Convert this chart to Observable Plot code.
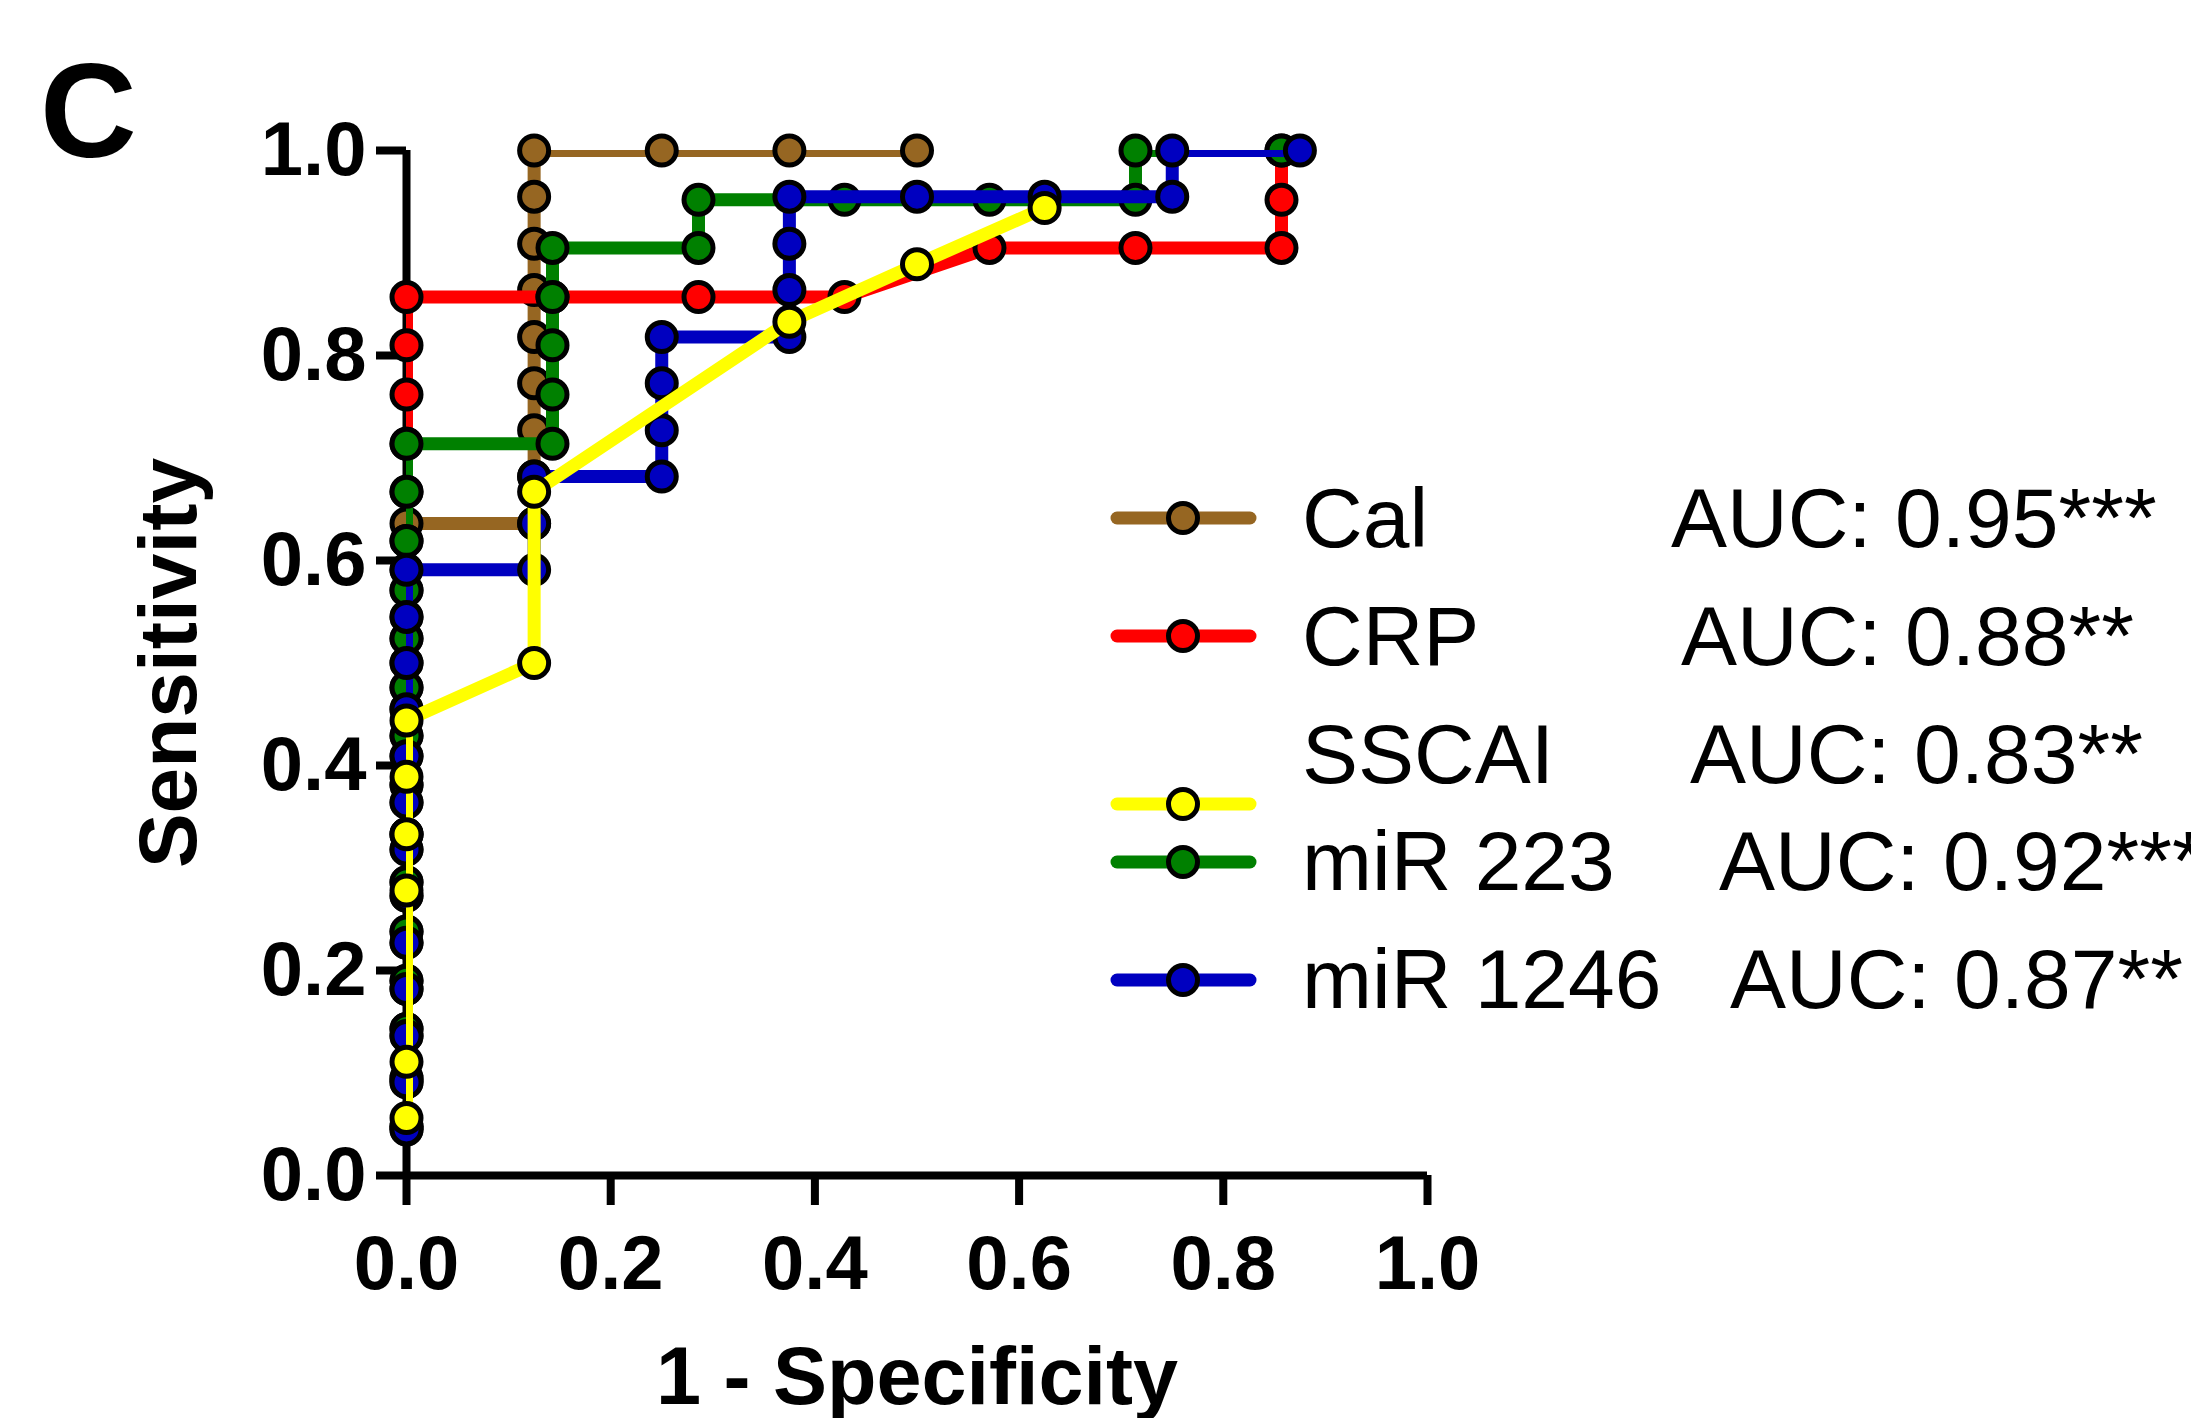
<!DOCTYPE html>
<html><head><meta charset="utf-8">
<script src="https://cdn.jsdelivr.net/npm/d3@7"></script>
<script src="https://cdn.jsdelivr.net/npm/@observablehq/plot@0.6"></script>
<style>
html,body{margin:0;padding:0;background:#fff;}
#wrap{position:relative;width:2191px;height:1418px;font-family:"Liberation Sans",Arial,Helvetica,sans-serif;}
#overlay{position:absolute;left:0;top:0;pointer-events:none;}
</style></head><body><div id="wrap"></div>
<script>
// ---- data ----
const xTicks = [0.0, 0.2, 0.4, 0.6, 0.8, 1.0];
const yTicks = [0.0, 0.2, 0.4, 0.6, 0.8, 1.0];
const seriesNames = ["Cal", "CRP", "SSCAI", "miR 223", "miR 1246"];
const aucLabels = ["AUC: 0.95***", "AUC: 0.88**", "AUC: 0.83**", "AUC: 0.92***", "AUC: 0.87**"];
const seriesColors = ["#966622", "#ff0000", "#ffff00", "#008000", "#0000c0"];
const drawOrder = ["Cal", "CRP", "miR 223", "miR 1246", "SSCAI"];

const calX = [0,0,0,0,0,0,0,0,0,0,0,0,0,0, 0.125,0.125,0.125,0.125,0.125,0.125,0.125,0.125,0.125, 0.25,0.375,0.5];
const calY = [0.045,0.091,0.136,0.182,0.227,0.273,0.318,0.364,0.409,0.455,0.500,0.545,0.591,0.636, 0.636,0.682,0.727,0.773,0.818,0.864,0.909,0.955,1.0, 1.0,1.0,1.0];

const crpX = [0,0,0,0,0,0,0,0,0,0,0,0,0,0,0,0,0,0, 0.143,0.286,0.429,0.571,0.714,0.857,0.857,0.857];
const crpY = [0.048,0.095,0.143,0.190,0.238,0.286,0.333,0.381,0.429,0.476,0.524,0.571,0.619,0.667,0.714,0.762,0.810,0.857, 0.857,0.857,0.857,0.905,0.905,0.905,0.952,1.0];

const sscaiX = [0,0,0,0,0,0, 0.125,0.125,0.375,0.5,0.625];
const sscaiY = [0.056,0.111,0.278,0.333,0.389,0.444, 0.500,0.667,0.833,0.889,0.944];

const mir223X = [0,0,0,0,0,0,0,0,0,0,0,0,0,0,0, 0.143,0.143,0.143,0.143,0.143, 0.286,0.286,0.429,0.571,0.714,0.714,0.857];
const mir223Y = [0.048,0.095,0.143,0.190,0.238,0.286,0.333,0.381,0.429,0.476,0.524,0.571,0.619,0.667,0.714, 0.714,0.762,0.810,0.857,0.905, 0.905,0.952,0.952,0.952,0.952,1.0,1.0];

const mir1246X = [0,0,0,0,0,0,0,0,0,0,0,0,0, 0.125,0.125,0.125, 0.25,0.25,0.25,0.25, 0.375,0.375,0.375,0.375, 0.5,0.625,0.75,0.75,0.875];
const mir1246Y = [0.045,0.091,0.136,0.182,0.227,0.273,0.318,0.364,0.409,0.455,0.500,0.545,0.591, 0.591,0.636,0.682, 0.682,0.727,0.773,0.818, 0.818,0.864,0.909,0.955, 0.955,0.955,0.955,1.0,1.0];

const seriesX = {"Cal": calX, "CRP": crpX, "SSCAI": sscaiX, "miR 223": mir223X, "miR 1246": mir1246X};
const seriesY = {"Cal": calY, "CRP": crpY, "SSCAI": sscaiY, "miR 223": mir223Y, "miR 1246": mir1246Y};

// ---- table ----
const rows = [];
for (const s of seriesNames) {
  seriesX[s].forEach((x, i) => rows.push({series: s, x, y: seriesY[s][i]}));
}

// ---- styles / layout ----
const FONT = '"Liberation Sans", Arial, Helvetica, sans-serif';
const W = 2191, H = 1418;
const LINE_W = 13, DOT_R = 14.5, DOT_SW = 5, AXIS_W = 8;

const marks = [
  Plot.ruleY([0], {strokeWidth: AXIS_W, stroke: "black"}),
  Plot.ruleX([0], {strokeWidth: AXIS_W, stroke: "black"}),
  Plot.axisX({ticks: xTicks, tickFormat: d3.format(".1f"), tickSize: 30, tickPadding: 30,
    strokeWidth: AXIS_W, fontSize: 76, fontWeight: "bold", label: null}),
  Plot.axisX({ticks: [], tickSize: 0, label: "1 - Specificity", labelAnchor: "center", labelArrow: "none",
    labelOffset: 228, fontSize: 81, fontWeight: "bold"}),
  Plot.axisY({ticks: yTicks, tickFormat: d3.format(".1f"), tickSize: 30, tickPadding: 10,
    strokeWidth: AXIS_W, fontSize: 76, fontWeight: "bold", label: null}),
  Plot.axisY({ticks: [], tickSize: 0, label: "Sensitivity", labelAnchor: "center", labelArrow: "none",
    labelOffset: 269, fontSize: 82, fontWeight: "bold"})
];
for (const s of drawOrder) {
  const d = rows.filter(r => r.series === s);
  marks.push(Plot.line(d, {x: "x", y: "y", stroke: "series", strokeWidth: LINE_W,
    strokeLinejoin: "miter", strokeLinecap: "butt", clip: true}));
  marks.push(Plot.dot(d, {x: "x", y: "y", fill: "series", stroke: "black", strokeWidth: DOT_SW, r: DOT_R}));
}

const chart = Plot.plot({
  width: W, height: H,
  marginLeft: 406, marginRight: 764, marginTop: 150, marginBottom: 243,
  x: {domain: [0, 1]},
  y: {domain: [0, 1]},
  color: {domain: seriesNames, range: seriesColors},
  style: {fontFamily: FONT, background: "white", color: "black", overflow: "visible"},
  marks
});
const wrap = document.getElementById("wrap");
wrap.appendChild(chart);

// ---- legend & panel letter overlay ----
const legendLayout = {
  lineX1: 1117, lineX2: 1250, dotX: 1183, nameX: 1302,
  lineY: [518, 636, 804, 862, 980],
  textY: [547, 665, 783, 890, 1008],
  aucX: [1671, 1681, 1690, 1719, 1730]
};
const svg = d3.select(wrap).append("svg").attr("id", "overlay")
  .attr("width", W).attr("height", H).style("overflow", "visible")
  .attr("font-family", FONT);
svg.append("text").attr("x", 40).attr("y", 157).attr("font-size", 134)
  .attr("font-weight", "bold").text("C");
seriesNames.forEach((name, i) => {
  const g = svg.append("g");
  const ly = legendLayout.lineY[i];
  g.append("line").attr("x1", legendLayout.lineX1).attr("x2", legendLayout.lineX2)
    .attr("y1", ly).attr("y2", ly).attr("stroke", seriesColors[i]).attr("stroke-width", LINE_W)
    .attr("stroke-linecap", "round");
  g.append("circle").attr("cx", legendLayout.dotX).attr("cy", ly).attr("r", DOT_R)
    .attr("fill", seriesColors[i]).attr("stroke", "black").attr("stroke-width", DOT_SW);
  g.append("text").attr("x", legendLayout.nameX).attr("y", legendLayout.textY[i])
    .attr("font-size", 84).text(name);
  g.append("text").attr("x", legendLayout.aucX[i]).attr("y", legendLayout.textY[i])
    .attr("font-size", 84).text(aucLabels[i]);
});
</script></body></html>
